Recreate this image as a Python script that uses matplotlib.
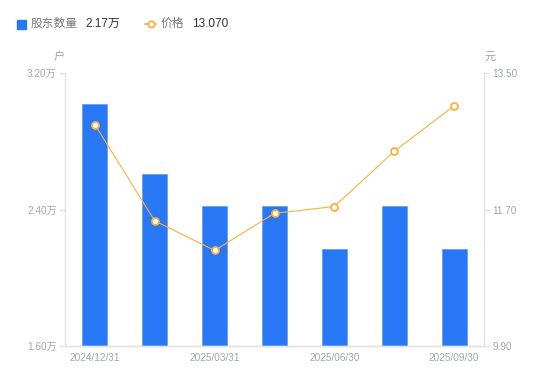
import matplotlib
matplotlib.use("Agg")
import matplotlib.pyplot as plt
from matplotlib.patches import Rectangle
from matplotlib.lines import Line2D

plt.rcParams['font.family'] = ['Liberation Sans', 'Noto Sans CJK SC', 'DejaVu Sans']

# ---- data ----
tick_labels = ['2024/12/31', '', '2025/03/31', '', '2025/06/30', '', '2025/09/30']
holders = [3.02, 2.61, 2.42, 2.42, 2.17, 2.42, 2.17]          # 万户
price = [12.82, 11.55, 11.16, 11.65, 11.74, 12.47, 13.07]      # 元
left_ticks = [1.60, 2.40, 3.20]
right_ticks = [9.90, 11.70, 13.50]
series_names = ['股东数量', '价格']
units = ['户', '元']

BLUE = '#2878F5'
ORANGE = '#FBB03B'
TICK_C = '#A0A3B4'
SPINE_C = '#E2E2E6'

fig = plt.figure(figsize=(5.5, 3.81), dpi=100)
ax = fig.add_axes([65/550, 35.2/381, 419/550, 272.5/381])
ax2 = ax.twinx()

x = list(range(len(holders)))
ax.bar(x, holders, width=0.42, color=BLUE, edgecolor='#5C9BF8', linewidth=0.5, zorder=2)
ax.set_xlim(-0.5, len(holders) - 0.5)
ax.set_ylim(left_ticks[0], left_ticks[-1])
ax.set_yticks(left_ticks)
ax.set_yticklabels([f'{v:.2f}万' for v in left_ticks])
ax.set_xticks(x)
ax.set_xticklabels(tick_labels)

ax2.plot(x, price, color=ORANGE, linewidth=0.8, marker='o', markersize=5,
         markerfacecolor='white', markeredgecolor=ORANGE, markeredgewidth=1.3, zorder=3)
ax2.set_ylim(right_ticks[0], right_ticks[-1])
ax2.set_yticks(right_ticks)
ax2.set_yticklabels([f'{v:.2f}' for v in right_ticks])

for a in (ax, ax2):
    a.spines['top'].set_visible(False)
    for s in ('left', 'right', 'bottom'):
        a.spines[s].set_color(SPINE_C)
        a.spines[s].set_linewidth(1.0)
    a.tick_params(axis='y', colors=SPINE_C, labelcolor=TICK_C, labelsize=7.2, length=4, width=1, pad=2)
ax.tick_params(axis='x', length=0, labelcolor=TICK_C, labelsize=7.2, pad=5)
ax2.spines['left'].set_visible(False)
ax.spines['right'].set_visible(False)

# unit labels
fig.text(59/550, 1 - 57/381, units[0], color=TICK_C, fontsize=8, ha='center', va='center')
fig.text(490/550, 1 - 57/381, units[1], color=TICK_C, fontsize=8, ha='center', va='center')

# legend
ly = 1 - 24/381
fig.patches.append(Rectangle((17/550, 1 - 28.5/381), 8.5/550, 8.5/381, transform=fig.transFigure,
                             color=BLUE, figure=fig))
fig.text(31/550, ly, series_names[0], color='#777777', fontsize=8.5, ha='left', va='center')
fig.text(85/550, ly, f'{holders[-1]:.2f}万', color='#333333', fontsize=8.5, ha='left', va='center')
fig.lines.append(Line2D([145/550, 156/550], [ly, ly], transform=fig.transFigure, color=ORANGE,
                        linewidth=1.2, figure=fig))
fig.lines.append(Line2D([150.5/550], [ly], transform=fig.transFigure, color=ORANGE, linestyle='none',
                        marker='o', markersize=4.5, markerfacecolor='white', markeredgewidth=1.3,
                        markeredgecolor=ORANGE, figure=fig))
fig.text(161/550, ly, series_names[1], color='#777777', fontsize=8.5, ha='left', va='center')
fig.text(192/550, ly, f'{price[-1]:.3f}', color='#333333', fontsize=8.5, ha='left', va='center')

fig.savefig('out.png', dpi=100)
